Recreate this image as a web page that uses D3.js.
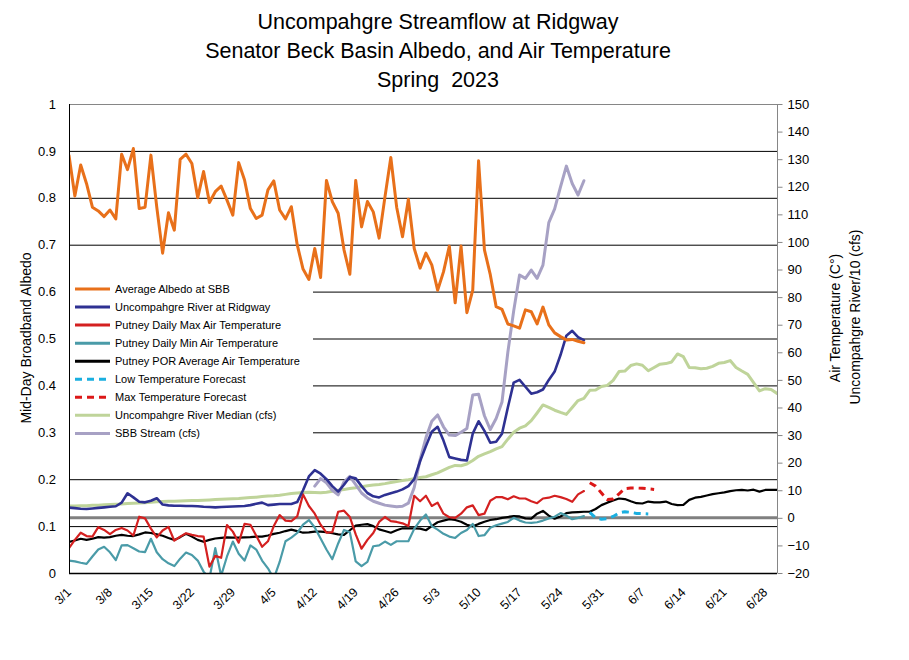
<!DOCTYPE html>
<html><head><meta charset="utf-8">
<script src="https://cdn.jsdelivr.net/npm/d3@7"></script>
<style>body{margin:0;background:#fff}svg{display:block}text{font-family:"Liberation Sans",Arial,sans-serif}</style>
</head><body><svg id="c" width="909" height="660"></svg>
<script>
// ---------- DATA ----------
const titleLines = ["Uncompahgre Streamflow at Ridgway", "Senator Beck Basin Albedo, and Air Temperature", "Spring  2023"];
const seasonStart = "2023-03-01";
const seasonEnd = "2023-06-30";
const xTickLabels = ["3/1","3/8","3/15","3/22","3/29","4/5","4/12","4/19","4/26","5/3","5/10","5/17","5/24","5/31","6/7","6/14","6/21","6/28"];
const leftTicks = [0,0.1,0.2,0.3,0.4,0.5,0.6,0.7,0.8,0.9,1];
const rightTicks = [-20,-10,0,10,20,30,40,50,60,70,80,90,100,110,120,130,140,150];

// Average Albedo at SBB (left axis), daily from 3/1
const albedo = [0.89,0.804,0.87,0.83,0.78,0.772,0.76,0.774,0.755,0.893,0.86,0.905,0.777,0.78,0.891,0.78,0.682,0.768,0.731,0.882,
0.893,0.873,0.80,0.856,0.79,0.813,0.825,0.795,0.763,0.875,0.838,0.777,0.756,0.763,0.817,0.836,0.774,0.755,0.781,0.70,
0.648,0.626,0.692,0.63,0.837,0.792,0.767,0.689,0.637,0.837,0.738,0.792,0.77,0.714,0.802,0.886,0.78,0.717,0.797,0.692,
0.65,0.682,0.657,0.603,0.642,0.697,0.576,0.697,0.555,0.603,0.879,0.689,0.636,0.568,0.562,0.531,0.527,0.522,0.561,0.557,
0.531,0.567,0.529,0.512,0.504,0.497,0.498,0.494,0.491];
// Uncompahgre River at Ridgway (cfs/10), daily from 3/1
const riverFlow = [3.7,3.5,3.3,3.2,3.4,3.6,3.8,4.0,4.2,5.5,8.9,7.4,5.8,5.6,6.2,7.1,4.8,4.5,4.4,4.4,
4.3,4.3,4.2,4.0,3.9,3.8,3.9,4.0,4.1,4.2,4.3,4.6,5.1,5.5,4.6,4.8,5.0,5.0,5.0,5.7,
10,15,17.3,16,14,11.5,9.5,12,14.8,14.3,11.5,9,7.8,7.4,8.3,8.9,9.5,10.3,11.5,14,
20.5,26,31.2,33,28,22,21.5,21,20.8,30.5,35,31.5,27.2,27.6,30.5,40,49,50,47.5,45,
45.5,46.5,50,53,59,66,67.8,65.5,64.4];
// Putney Daily Max Air Temperature (C), daily from 3/1
const maxTemp = [-11,-8,-5.4,-6.6,-6.8,-3.4,-4.4,-5.9,-4.4,-3.7,-4.6,-6.4,0.4,-0.2,-3.9,-7.1,-4.6,-3.3,-8.3,-6.8,
-5.6,-6.2,-6.6,-6.8,-17.7,-13.8,-14.5,-2.6,-5,-9,-2.2,-2.5,-6.5,-10.5,-8.5,-3,1.0,-1.0,-1.2,0.5,
8.5,4.3,1.5,-2.5,-5.4,-5.2,2.2,2.6,0.3,-6,-11.2,-8,-5.5,-1.5,0.3,-1.2,-1.5,-2,-3,8,
6,8,4.3,5.5,1.5,0.2,0,1.5,3.8,4.5,1,1.5,6.2,7.5,7.5,6.7,7.8,7,7,6,
5.3,7,7.3,8,7.5,6.8,5.8,8.5,9.7];
// Putney Daily Min Air Temperature (C), daily from 3/1
const minTemp = [-15.5,-15.8,-16.3,-16.7,-14,-11.5,-10.5,-12.5,-15.3,-10,-9.9,-11,-12.2,-12.4,-7.6,-12.5,-15,-16.5,-17.5,-14.8,
-12.6,-13.5,-15.5,-19.5,-22,-11,-21,-14,-8.6,-13,-15.5,-10,-11.5,-15.5,-18.3,-22,-16,-8.5,-7.2,-5.5,
-2.5,-0.8,-3.5,-7.5,-11.5,-15,-9.3,-4.4,-5.2,-15.8,-17.5,-16,-10.3,-10,-8.6,-9.8,-8.5,-8.5,-8.5,-4,
-1,1.2,-3,-4.3,-5.8,-6.8,-7.3,-5.5,-4.4,-2.2,-6.6,-6.3,-3.6,-2.7,-2.1,-1.5,0,-1,-1.7,-1.8,
-1.6,-1,-0.2,0.4,1.7,0.8,-0.5,0,0.6];
// Putney POR Average Air Temperature (C), daily 3/1 - 6/30
const porAvg = [-8.7,-8.2,-7.6,-8.0,-7.6,-7.0,-7.2,-7.0,-6.5,-6.2,-6.5,-6.6,-6.0,-5.3,-5.5,-6.0,-6.5,-7.3,-8.0,-7.0,
-5.8,-6.8,-8.0,-8.7,-8.0,-7.5,-7.3,-7.1,-7.2,-7.2,-7.1,-7.0,-6.8,-6.8,-6.4,-5.8,-5.4,-4.8,-4.3,-4.8,
-5.4,-5.3,-5.0,-5.0,-5.2,-5.6,-6.0,-6.2,-4.5,-2.8,-2.5,-2.3,-3.0,-4.2,-4.8,-5.4,-4.5,-3.8,-3.8,-3.8,
-3.9,-4.5,-3.0,-1.6,-1.0,-0.5,-0.8,-1.4,-2.5,-3.1,-2.2,-1.4,-0.8,-0.5,0.0,0.3,0.6,0.5,-0.2,-0.3,
1.5,2.5,0.8,-0.3,0.5,1.7,2.0,2.1,2.2,2.2,3.2,4.6,5.5,6.3,7.0,6.8,6.0,5.3,5.2,5.9,
5.6,5.6,5.9,5.0,4.6,4.7,6.5,7.3,7.6,8.1,8.6,8.9,9.2,9.7,10.0,10.1,9.9,10.2,9.5,10.1,
10.1,10.1];
// Uncompahgre River Median (cfs/10), daily 3/1 - 6/30
const riverMedian = [4.3,4.3,4.4,4.4,4.6,4.6,4.7,4.8,4.9,5.0,5.2,5.3,5.4,5.5,5.6,5.8,5.9,6.0,6.0,6.1,
6.2,6.3,6.3,6.4,6.5,6.6,6.7,6.8,6.9,7.0,7.2,7.4,7.5,7.7,7.9,8.0,8.2,8.5,8.8,9.0,
9.2,9.3,9.2,9.1,9.3,9.6,10.0,10.3,10.6,10.9,11.3,11.6,11.9,12.1,12.4,12.8,13.2,13.5,13.8,14.2,
14.6,14.9,15.6,16.3,17.3,18.3,19.0,18.9,19.5,20.8,22.3,23.2,24,25,25.8,28.5,31,32.5,33.3,35.2,
38,40.9,40,39,38.2,37.5,40,42.5,43.3,46.2,46.3,47.6,48,49.8,53,53.2,55.2,55.8,55.3,53.3,
54.5,55.7,55.9,56.5,59.4,58.4,54.5,54.4,54,54.2,54.9,56,56.3,57,54.5,53.2,52,49,46,46.8,
46.5,45.1];
// SBB Stream (cfs), daily from 4/12
const sbbStart = "2023-04-12";
const sbbStream = [11.5,14.2,12.7,10,8.3,13,15,12,9,7.2,6,5.3,4.6,4.3,4.0,4.2,5.3,11,21,29,
35,37.3,33,30,29.8,31,32.4,44.5,44.8,37,32,36,42,60,75,88,86.8,89.8,86.8,91.6,
107,112,120,127.5,121.2,117,122.2];
// Forecasts (C), daily from 5/29
const forecastStart = "2023-05-29";
const lowForecast = [2.0,0,-0.5,-0.3,0.5,1.8,2.2,2.0,1.6,1.5,1.4];
const maxForecast = [12.7,11.5,9,6.6,6.8,8.7,10.6,10.8,10.8,10.7,10.5,10.3];

// ---------- LAYOUT ----------
const svg = d3.select("#c");
const L = 69, R = 777, T = 104, B = 573;
const parse = d3.timeParse("%Y-%m-%d");
const d0 = parse(seasonStart), d1 = parse(seasonEnd);
const x = d3.scaleTime().domain([d0, d1]).range([L, R]);
const yL = d3.scaleLinear().domain([0, 1]).range([B, T]);
const yR = d3.scaleLinear().domain([-20, 150]).range([B, T]);
const dayAt = (start, i) => d3.timeDay.offset(parse(start), i);

// title
svg.append("g").selectAll("text").data(titleLines).join("text")
  .attr("x", 438).attr("y", (d, i) => 29 + i * 29).attr("text-anchor", "middle")
  .style("white-space", "pre")
  .attr("font-size", 21.5).attr("fill", "#000").text(d => d);

// gridlines (left-axis ticks)
svg.append("g").selectAll("line").data(leftTicks.filter(v => v > 0 && v < 1)).join("line")
  .attr("x1", L).attr("x2", R).attr("y1", d => yL(d) + 0.5).attr("y2", d => yL(d) + 0.5)
  .attr("stroke", "#000").attr("stroke-width", 1);
// top border
svg.append("line").attr("x1", L).attr("x2", R).attr("y1", T + 0.5).attr("y2", T + 0.5).attr("stroke", "#868686");
// zero line of right axis
svg.append("line").attr("x1", L).attr("x2", R).attr("y1", yR(0)).attr("y2", yR(0))
  .attr("stroke", "#808080").attr("stroke-width", 3);

// legend box (white, covers gridlines)
const legendItems = [
  {name: "Average Albedo at SBB", color: "#E8701A", dash: null},
  {name: "Uncompahgre River at Ridgway", color: "#2E3192", dash: null},
  {name: "Putney Daily Max Air Temperature", color: "#D42020", dash: null},
  {name: "Putney Daily Min Air Temperature", color: "#4A9BA8", dash: null},
  {name: "Putney POR Average Air Temperature", color: "#000000", dash: null},
  {name: "Low Temperature Forecast", color: "#1AAFE0", dash: "7,5"},
  {name: "Max Temperature Forecast", color: "#DC1818", dash: "7,5"},
  {name: "Uncompahgre River Median (cfs)", color: "#BFD49A", dash: null},
  {name: "SBB Stream (cfs)", color: "#A7A1C4", dash: null}
];
svg.append("rect").attr("x", L + 1).attr("y", 278).attr("width", 243).attr("height", 163).attr("fill", "#fff");

// clip
svg.append("clipPath").attr("id", "pc").append("rect").attr("x", L).attr("y", T).attr("width", R - L).attr("height", B - T);
const plot = svg.append("g").attr("clip-path", "url(#pc)");

function drawSeries(vals, start, scale, color, width, dash) {
  const pts = vals.map((v, i) => [dayAt(start, i), v]);
  const line = d3.line().x(d => x(d[0])).y(d => scale(d[1]));
  const p = plot.append("path").datum(pts).attr("d", line).attr("fill", "none")
    .attr("stroke", color).attr("stroke-width", width).attr("stroke-linejoin", "round").attr("stroke-linecap", dash ? "butt" : "round");
  if (dash) p.attr("stroke-dasharray", dash);
}
drawSeries(riverMedian, seasonStart, yR, legendItems[7].color, 3, null);
drawSeries(porAvg, seasonStart, yR, legendItems[4].color, 2.2, null);
drawSeries(minTemp, seasonStart, yR, legendItems[3].color, 2.2, null);
drawSeries(maxTemp, seasonStart, yR, legendItems[2].color, 2.2, null);
drawSeries(lowForecast, forecastStart, yR, legendItems[5].color, 3, "7,5");
drawSeries(maxForecast, forecastStart, yR, legendItems[6].color, 3, "7,5");
drawSeries(sbbStream, sbbStart, yR, legendItems[8].color, 3, null);
drawSeries(riverFlow, seasonStart, yR, legendItems[1].color, 2.6, null);
drawSeries(albedo, seasonStart, yL, legendItems[0].color, 3, null);

// axes lines
svg.append("line").attr("x1", L + 0.5).attr("x2", L + 0.5).attr("y1", T).attr("y2", B).attr("stroke", "#000");
svg.append("line").attr("x1", L).attr("x2", R).attr("y1", B + 0.5).attr("y2", B + 0.5).attr("stroke", "#000").attr("stroke-width", 1.5);

// left axis labels
const gl = svg.append("g").call(d3.axisLeft(yL).tickValues(leftTicks).tickSize(0).tickPadding(13).tickFormat(d3.format("~g")))
  .attr("transform", `translate(${L},0)`);
gl.select(".domain").remove();
gl.selectAll("text").attr("font-size", 13).attr("fill", "#000").attr("font-family", '"Liberation Sans",Arial,sans-serif');

// right axis
const gr = svg.append("g").attr("transform", `translate(${R + 0.5},0)`)
  .call(d3.axisRight(yR).tickValues(rightTicks).tickSize(5).tickPadding(5).tickFormat(d3.format("d")));
gr.select(".domain").attr("stroke", "#868686").attr("d", `M0,${T}V${B}`);
gr.selectAll(".tick line").attr("stroke", "#868686");
gr.selectAll("text").attr("font-size", 13).attr("fill", "#000").attr("font-family", '"Liberation Sans",Arial,sans-serif');

// x axis labels
const tickDates = xTickLabels.map((s, i) => d3.timeDay.offset(d0, i * 7));
svg.append("g").selectAll("text").data(tickDates).join("text")
  .attr("transform", (d, i) => `translate(${x(d) + 3},${B + 20}) rotate(-45)`)
  .attr("text-anchor", "end").attr("font-size", 12.5).attr("fill", "#000")
  .text((d, i) => xTickLabels[i]);

// axis titles
svg.append("text").attr("transform", "translate(31,338) rotate(-90)").attr("text-anchor", "middle")
  .attr("font-size", 14).text("Mid-Day Broadband Albedo");
svg.append("text").attr("transform", "translate(840,318) rotate(-90)").attr("text-anchor", "middle")
  .attr("font-size", 14).text("Air Temperature (C°)");
svg.append("text").attr("transform", "translate(860,317) rotate(-90)").attr("text-anchor", "middle")
  .attr("font-size", 14).text("Uncompahgre River/10 (cfs)");

// legend
const lg = svg.append("g").selectAll("g").data(legendItems).join("g")
  .attr("transform", (d, i) => `translate(75,${289 + i * 18.05})`);
lg.append("line").attr("x1", 0).attr("x2", 35).attr("y1", 0).attr("y2", 0)
  .attr("stroke", d => d.color).attr("stroke-width", 3).attr("stroke-dasharray", d => d.dash);
lg.append("text").attr("x", 40).attr("y", 4).attr("font-size", 11).attr("fill", "#000").text(d => d.name);
</script></body></html>
